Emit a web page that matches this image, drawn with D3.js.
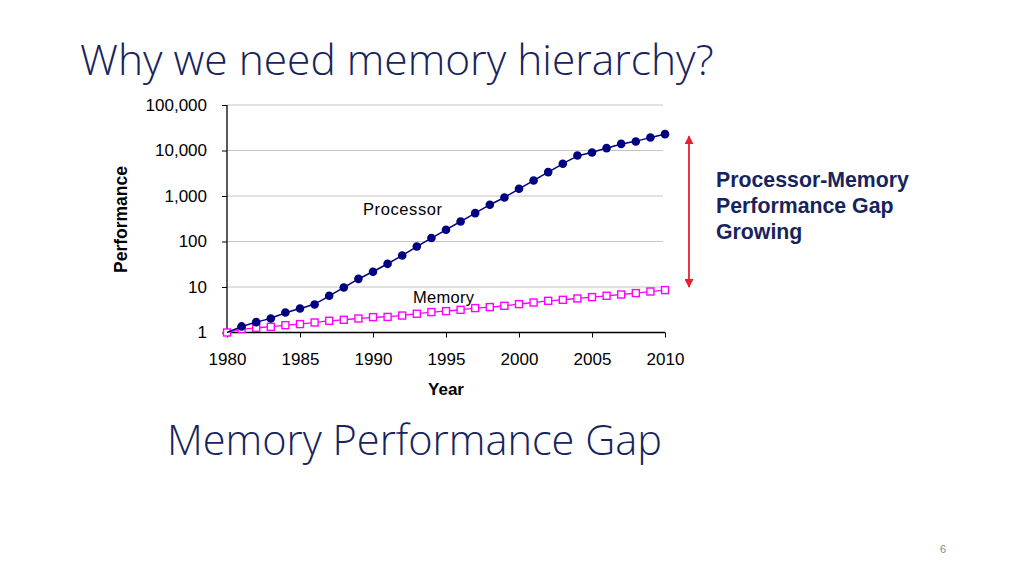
<!DOCTYPE html>
<html>
<head>
<meta charset="utf-8">
<script src="https://cdn.jsdelivr.net/npm/d3@7"></script>
<style>
  body { margin: 0; background: #fff; }
  svg { display: block; }
</style>
</head>
<body>
<svg id="chart" width="1024" height="574"></svg>
<script>
'use strict'

// years 1980..2010
const years = d3.range(1980, 2011)

// relative performance
const processor = [1, 1.36, 1.69, 2.03, 2.75, 3.37, 4.12, 6.4, 9.75, 15.1,
  21.6, 32.3, 49.2, 77.6, 119, 181, 275, 421, 641, 927,
  1440, 2190, 3350, 5100, 7770, 9040, 11300, 14000, 15800, 19300, 22900]

const memory = [1, 1.19, 1.27, 1.33, 1.45, 1.53, 1.66, 1.81, 1.9, 2.03,
  2.18, 2.2, 2.36, 2.58, 2.81, 2.95, 3.15, 3.44, 3.62, 3.86,
  4.21, 4.56, 4.97, 5.23, 5.59, 6.0, 6.41, 6.84, 7.35, 7.96, 8.55]

const yTicks = [1, 10, 100, 1000, 10000, 100000]
const xTicks = [1980, 1985, 1990, 1995, 2000, 2005, 2010]

const navy = '#17245c'
const svg = d3.select('#chart')

// slide titles
svg.append('text')
  .attr('x', 80).attr('y', 75)
  .attr('font-family', 'Open Sans').attr('font-weight', 300)
  .attr('font-size', 42.5).attr('fill', navy)
  .text('Why we need memory hierarchy?')

svg.append('text')
  .attr('x', 167).attr('y', 455)
  .attr('font-family', 'Open Sans').attr('font-weight', 300)
  .attr('font-size', 41.5).attr('fill', navy)
  .text('Memory Performance Gap')

svg.append('text')
  .attr('x', 943).attr('y', 553)
  .attr('font-family', 'Liberation Sans').attr('font-size', 11)
  .attr('fill', '#8a8a8a').attr('text-anchor', 'middle')
  .text('6')

// chart area
const plotLeft = 227
const plotRight = 665
const plotTop = 105
const plotBottom = 332.5

const x = d3.scaleLinear().domain([1980, 2010]).range([plotLeft, plotRight])
const y = d3.scaleLog().domain([1, 100000]).range([plotBottom, plotTop])

const g = svg.append('g')
  .attr('font-family', 'Liberation Sans')

// gridlines
g.append('g')
  .selectAll('line')
  .data(yTicks.slice(1))
  .join('line')
  .attr('x1', plotLeft).attr('x2', plotRight - 2)
  .attr('y1', d => y(d)).attr('y2', d => y(d))
  .attr('stroke', '#c4c4c4').attr('stroke-width', 1)

const yAxis = g.append('g')
  .attr('transform', `translate(${plotLeft},0)`)
  .call(d3.axisLeft(y).tickValues(yTicks).tickFormat(d3.format(',')).tickSize(5).tickPadding(15))
yAxis.select('.domain').attr('stroke', '#000').attr('stroke-width', 1.3)
  .attr('d', `M0,${plotTop}V${plotBottom}`)
yAxis.selectAll('text').attr('font-size', 17).attr('font-family', 'Liberation Sans').attr('fill', '#000')

const xAxis = g.append('g')
  .attr('transform', `translate(0,${plotBottom})`)
  .call(d3.axisBottom(x).tickValues(xTicks).tickFormat(d3.format('d')).tickSize(5).tickPadding(15))
xAxis.select('.domain').attr('stroke', '#000').attr('stroke-width', 1.3)
  .attr('d', `M${plotLeft},0H${plotRight}`)
xAxis.selectAll('text').attr('font-size', 17).attr('font-family', 'Liberation Sans').attr('fill', '#000')

// axis titles
g.append('text')
  .attr('transform', `translate(127,219.5) rotate(-90)`)
  .attr('text-anchor', 'middle')
  .attr('font-size', 17.5).attr('font-weight', 'bold')
  .text('Performance')

g.append('text')
  .attr('x', 446).attr('y', 395)
  .attr('text-anchor', 'middle')
  .attr('font-size', 17).attr('font-weight', 'bold')
  .text('Year')

const line = d3.line().curve(d3.curveBasis)
  .x(d => x(d[0])).y(d => y(d[1]))

const procData = years.map((yr, i) => [yr, processor[i]])
const memData = years.map((yr, i) => [yr, memory[i]])

// memory series
g.append('path')
  .datum(memData)
  .attr('d', line)
  .attr('fill', 'none').attr('stroke', '#ff00ff').attr('stroke-width', 1.3)

g.append('g')
  .selectAll('rect')
  .data(memData)
  .join('rect')
  .attr('x', d => x(d[0]) - 3.5).attr('y', d => y(d[1]) - 3.5)
  .attr('width', 7).attr('height', 7)
  .attr('fill', '#fff').attr('stroke', '#ff00ff').attr('stroke-width', 1.4)

// processor series
g.append('path')
  .datum(procData)
  .attr('d', line)
  .attr('fill', 'none').attr('stroke', '#000080').attr('stroke-width', 1.5)

g.append('g')
  .selectAll('circle')
  .data(procData.slice(1))
  .join('circle')
  .attr('cx', d => x(d[0])).attr('cy', d => y(d[1]))
  .attr('r', 4.3)
  .attr('fill', '#000080')

// series labels
g.append('text')
  .attr('x', 363).attr('y', 215)
  .attr('font-size', 16.5).attr('letter-spacing', 0.6).attr('fill', '#000')
  .text('Processor')

g.append('text')
  .attr('x', 413).attr('y', 303)
  .attr('font-size', 16.5).attr('letter-spacing', 0.3).attr('fill', '#000')
  .text('Memory')

// gap arrow
const red = '#e8202f'
svg.append('defs').call(defs => {
  defs.append('marker')
    .attr('id', 'head')
    .attr('viewBox', '0 0 10 10')
    .attr('refX', 9).attr('refY', 5)
    .attr('markerWidth', 5).attr('markerHeight', 5)
    .attr('orient', 'auto-start-reverse')
    .attr('markerUnits', 'strokeWidth')
    .append('path').attr('d', 'M0,0L10,5L0,10Z').attr('fill', red)
})

svg.append('line')
  .attr('x1', 689).attr('x2', 689)
  .attr('y1', y(processor[processor.length - 1]) + 2)
  .attr('y2', y(memory[memory.length - 1]) - 3)
  .attr('stroke', red).attr('stroke-width', 1.8)
  .attr('marker-start', 'url(#head)')
  .attr('marker-end', 'url(#head)')

const note = svg.append('text')
  .attr('font-family', 'Liberation Sans').attr('font-weight', 'bold')
  .attr('font-size', 21.3).attr('fill', navy)
;['Processor-Memory', 'Performance Gap', 'Growing'].forEach((t, i) => {
  note.append('tspan').attr('x', 716).attr('y', 187 + i * 25.8).text(t)
})
</script>
</body>
</html>
